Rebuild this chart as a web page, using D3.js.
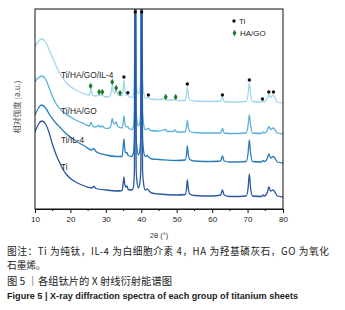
<!DOCTYPE html>
<html><head><meta charset="utf-8">
<script src="https://cdn.jsdelivr.net/npm/d3@7"></script>
<style>
html,body{margin:0;padding:0;background:#fff;}
svg{display:block;}
</style></head>
<body>
<script>
// ---- data (2θ in degrees, relative intensity in a.u., curves already offset) ----
const seriesNames = ["Ti", "Ti/IL-4", "Ti/HA/GO", "Ti/HA/GO/IL-4"];
const seriesColors = ["#2b58a3", "#2a7db8", "#5db1d6", "#a2d7ec"];

const ti = [[10,77],[11,85],[11.9,88],[13,85],[14,76],[15,64],[16,54],[17,46],[18,39],[19,34],[20,30.5],[22,26],[24,23],[26,21],[26.6,22.5],[27.2,20.5],[30,19],[33,18],[34.6,18.5],[34.85,25],[35.1,32],[35.35,24],[35.65,22],[35.95,23],[36.3,19.5],[37.3,19],[37.8,22],[38.05,39],[38.3,269],[38.55,39],[38.85,26],[39.2,21],[39.6,26],[39.85,39],[40.1,269],[40.35,39],[40.7,24],[41.1,19],[41.6,20],[42.2,18],[43,16],[45,15],[50,14],[52.4,14.5],[52.75,20],[53.0,29],[53.25,21],[53.7,15],[55,13.5],[60,13],[62.4,14],[62.9,19],[63.4,14],[65,12.5],[69.6,13],[70.15,21],[70.5,35],[70.85,21],[71.4,13],[74,12.5],[74.3,14],[74.8,13],[75.6,17],[76.0,22],[76.5,18],[77.25,19],[77.7,17],[78.4,13],[80,12]];

const tiIL4 = [[10,94],[11,101],[11.8,104],[13,101],[14,95],[15,90],[16,85.5],[17,82],[18,78],[20,72],[22,67],[24,63],[26,59],[26.6,60.5],[27.2,57.5],[28,56],[30,54],[33,52.5],[34.6,52.5],[34.85,61],[35.1,70],[35.35,60],[35.65,56],[35.95,56.5],[36.3,53.5],[37.3,52.5],[37.8,56],[38.05,72],[38.3,300],[38.55,72],[38.85,59],[39.2,54],[39.6,59],[39.85,72],[40.1,300],[40.35,72],[40.7,57],[41.1,52.5],[41.6,53.5],[42.2,51.5],[43,50],[45,49.5],[50,48.5],[52.4,49],[52.75,54],[53.0,63],[53.25,55],[53.7,49.5],[55,48],[60,47.5],[62.4,48],[62.9,53],[63.4,48],[65,47],[69.6,47.5],[70.15,56],[70.5,69],[70.85,56],[71.4,47.5],[74,47],[74.3,48.5],[74.8,47.5],[75.6,51],[76.0,55],[76.5,51],[77.25,52.5],[77.7,51],[78.4,47],[80,46]];

const tiHAGO = [[10,127.5],[11,131.5],[11.9,133],[13,130],[14,121],[15,112],[16,105],[17,100.5],[18,97],[20,92],[22,88],[24,85],[25.3,83],[25.8,86.5],[26.3,82.5],[27,82],[28.1,83.5],[28.55,82],[29.0,83],[29.6,81],[30.5,80.5],[31.3,82],[31.55,86],[31.8,90.5],[32.1,86.5],[32.5,85],[32.9,87],[33.4,82.5],[34.0,81.5],[34.6,81],[34.85,86],[35.1,93],[35.35,86],[35.7,82],[36.15,82.5],[36.5,80.5],[37.4,79.5],[37.8,83],[38.05,99],[38.3,330],[38.55,99],[38.85,87],[39.2,83],[39.6,87],[39.85,99],[40.1,330],[40.35,99],[40.7,84],[41.1,79.5],[42.0,80.5],[42.6,78.5],[45,78],[46.85,79.5],[47.3,77.5],[49.0,77.5],[49.55,79],[50.1,77],[52.4,77],[52.75,82],[53.0,88.5],[53.25,82.5],[53.7,77.5],[55,76.5],[60,76],[62.4,76],[62.9,80.5],[63.4,76],[65,75.5],[69.6,76],[70.15,84],[70.5,94],[70.85,84],[71.4,76],[74,75.5],[74.25,77],[74.8,76],[75.6,79],[76.0,82.5],[76.5,79.5],[77.25,81],[77.7,79.5],[78.4,76],[80,75]];

const tiHAGOIL4 = [[10,162],[11,168],[11.9,170],[13,167],[14,159],[15,151],[16,143],[17,136],[18,130],[19,125.5],[20,122.5],[22,118],[24,115],[25.3,114],[25.55,116.5],[25.8,120],[26.05,116],[26.4,113.5],[27,113],[27.7,113.5],[28.1,114.5],[28.5,113.5],[29.0,114.5],[29.5,112.5],[30.5,112],[31.3,113.5],[31.55,118],[31.8,124],[32.1,118],[32.5,116],[32.9,118.5],[33.4,114],[33.8,113.5],[34.0,114],[34.6,113],[34.85,120],[35.1,129],[35.35,120],[35.7,114],[36.2,114],[36.6,112],[37.4,111.5],[37.8,115],[38.05,133],[38.3,360],[38.55,133],[38.85,119],[39.2,115],[39.6,119],[39.85,133],[40.1,360],[40.35,133],[40.7,116],[41.2,111],[42.0,111.5],[42.6,110],[45,109.5],[46.85,110.5],[47.3,109],[49.1,109],[49.65,110.5],[50.2,108.5],[52.4,108.5],[52.75,114],[53.0,122],[53.25,115],[53.7,109],[55,108],[60,107.5],[62.4,108],[62.9,111.5],[63.4,107.5],[65,107],[69.6,107.5],[70.15,115],[70.5,126],[70.85,115],[71.4,107.5],[74,107],[74.2,108],[74.7,107],[75.6,111],[76.0,114.5],[76.5,111.5],[77.25,114],[77.7,111.5],[78.4,107],[80,106]];

const tiPeakMarks = [[35.1,132],[36.2,116.3],[38.3,197],[40.1,197],[42.0,114],[53.0,125],[62.9,114],[70.5,129],[74.2,110],[76.0,117],[77.3,117]];
const hagoPeakMarks = [[25.7,123],[28.1,117],[29.0,117],[31.8,127],[32.9,121],[34.0,116],[46.9,112],[49.7,112]];

const xTicks = [10,20,30,40,50,60,70,80];
const xMinorTicks = [15,25,35,45,55,65,75];
const legendLabels = ["Ti", "HA/GO"];
const captionLines = [
  "图注：Ti 为纯钛，IL-4 为白细胞介素 4，HA 为羟基磷灰石，GO 为氧化",
  "石墨烯。",
  "图 5 ｜各组钛片的 X 射线衍射能谱图",
  "Figure 5  |  X-ray diffraction spectra of each group of titanium sheets"
];

// ---- drawing ----
const W = 345, H = 310;
const m = {left:35, right:283, top:9, bottom:209};
const svg = d3.select("body").append("svg").attr("width", W).attr("height", H);

const x = d3.scaleLinear().domain([10,80]).range([m.left, m.right]);
const y = d3.scaleLinear().domain([0,200]).range([m.bottom, m.top]);

svg.append("clipPath").attr("id","clip").append("rect")
  .attr("x", m.left).attr("y", m.top).attr("width", m.right-m.left).attr("height", m.bottom-m.top);

const line = d3.line().x(d=>x(d[0])).y(d=>y(d[1])).curve(d3.curveMonotoneX);
const allSeries = [ti, tiIL4, tiHAGO, tiHAGOIL4];
const g = svg.append("g").attr("clip-path","url(#clip)");
[3,2,1,0].forEach(i=>{
  g.append("path").datum(allSeries[i]).attr("d", line)
    .attr("fill","none").attr("stroke", seriesColors[i]).attr("stroke-width",1.3)
    .attr("stroke-linejoin","round");
});

// frame
svg.append("rect").attr("x", m.left).attr("y", m.top).attr("width", m.right-m.left).attr("height", m.bottom-m.top)
  .attr("fill","none").attr("stroke","#111").attr("stroke-width",1);

// x axis
const ax = svg.append("g").attr("transform",`translate(0,${m.bottom})`)
  .call(d3.axisBottom(x).tickValues(xTicks).tickSize(4).tickPadding(3).tickFormat(d3.format("d")));
ax.select(".domain").attr("stroke","#111");
ax.selectAll(".tick line").attr("stroke","#111");
ax.selectAll("text").attr("font-family","'Liberation Sans', Arial, sans-serif").attr("font-size","8px").attr("fill","#222");
svg.append("g").selectAll("line").data(xMinorTicks).join("line")
  .attr("x1", d=>x(d)).attr("x2", d=>x(d)).attr("y1", m.bottom).attr("y2", m.bottom+2).attr("stroke","#111");

svg.append("text").attr("x", 159).attr("y", 237.5).attr("text-anchor","middle")
  .attr("font-family","'Liberation Sans', Arial, sans-serif").attr("font-size","7.5px").attr("fill","#333").text("2θ (°)");

svg.append("text").attr("transform","translate(20,107) rotate(-90)").attr("text-anchor","middle")
  .attr("font-family","'Noto Sans CJK SC', sans-serif").attr("font-size","8px").attr("fill","#555").text("相对强度 (a.u.)");

// series labels
const labelPos = [[61,170],[61,142.5],[61,113.5],[61,78]];
seriesNames.forEach((n,i)=>{
  svg.append("text").attr("x", labelPos[i][0]).attr("y", labelPos[i][1])
    .attr("font-family","'Liberation Sans', Arial, sans-serif").attr("font-size","8.3px").attr("fill","#222").text(n);
});

// peak markers
svg.append("g").selectAll("circle").data(tiPeakMarks).join("circle")
  .attr("cx", d=>x(d[0])).attr("cy", d=>y(d[1])).attr("r",1.7).attr("fill","#111");
const diamond = d3.symbol().type(d3.symbolDiamond).size(13);
svg.append("g").selectAll("path").data(hagoPeakMarks).join("path")
  .attr("transform", d=>`translate(${x(d[0])},${y(d[1])})`).attr("d", diamond).attr("fill","#1d7a22");

// legend
svg.append("circle").attr("cx",234).attr("cy",21).attr("r",1.7).attr("fill","#111");
svg.append("path").attr("transform","translate(234.5,33)").attr("d", diamond).attr("fill","#1d7a22");
svg.append("text").attr("x",239).attr("y",24).attr("font-family","'Liberation Sans', Arial, sans-serif").attr("font-size","8px").attr("fill","#222").text(legendLabels[0]);
svg.append("text").attr("x",240).attr("y",36).attr("font-family","'Liberation Sans', Arial, sans-serif").attr("font-size","8px").attr("fill","#222").text(legendLabels[1]);

// caption
const capY = [255, 269, 284.5, 299];
const capSize = ["9.7px", "9.7px", "10.3px"];
captionLines.forEach((t,i)=>{
  const el = svg.append("text").attr("x", 7).attr("y", capY[i]).text(t).attr("fill", "#222");
  if (i < 3) {
    el.attr("font-family","'Noto Sans CJK SC', sans-serif").attr("font-size", capSize[i]);
    if (i === 0) el.attr("textLength", 322).attr("lengthAdjust","spacing");
  } else {
    el.attr("font-family","'Liberation Sans', Arial, sans-serif").attr("font-size","8.5px").attr("font-weight","bold")
      .attr("textLength", 291).attr("lengthAdjust","spacingAndGlyphs");
  }
});
</script>
</body></html>
